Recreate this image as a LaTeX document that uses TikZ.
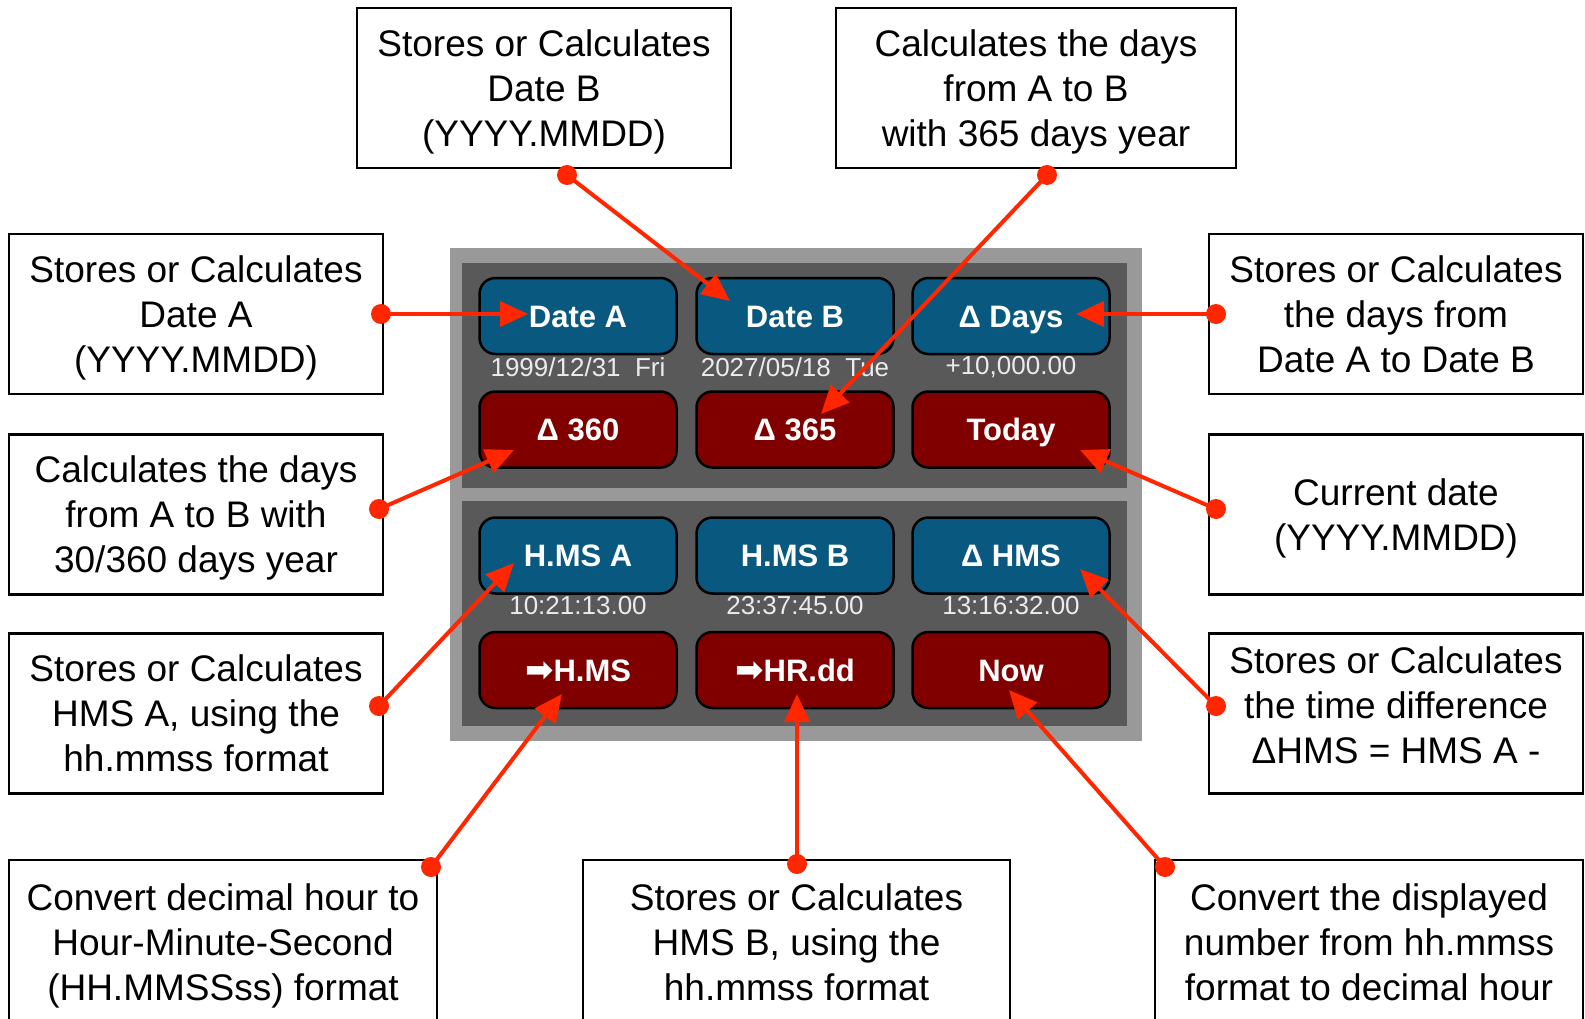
\documentclass[tikz,border=0pt]{standalone}
\usepackage{fontspec}
\setmainfont{Liberation Sans}
\newfontfamily\btnfont{Liberation Sans}
\newfontfamily\arrowfont{DejaVu Sans}
\usetikzlibrary{arrows.meta}
\definecolor{callred}{RGB}{255,38,0}
\definecolor{btnblue}{RGB}{8,88,128}
\definecolor{btnred}{RGB}{128,0,0}
\definecolor{panelouter}{RGB}{153,153,153}
\definecolor{panelinner}{RGB}{89,89,89}
\definecolor{sublabel}{RGB}{235,235,235}
\begin{document}
\begin{tikzpicture}[x=1pt,y=-1pt,
  box/.style={draw=black, line width=2.5pt, fill=white, inner sep=0pt,
    minimum width=374pt, minimum height=160pt, align=center, text depth=0pt,
    font=\fontsize{37}{45}\selectfont},
  btn/.style={draw=black, line width=2.5pt, rounded corners=16pt,
    minimum width=197pt, minimum height=76pt, inner sep=0pt, text=white,
    text height=22pt, text depth=0pt,
    font=\btnfont\bfseries\fontsize{31}{36}\selectfont},
  bluebtn/.style={btn, fill=btnblue},
  redbtn/.style={btn, fill=btnred},
  sub/.style={text=sublabel, inner sep=0pt, font=\btnfont\fontsize{26}{30}\selectfont},
  conn/.style={draw=callred, line width=4pt, -{Triangle[length=28pt,width=25pt]}},
  dotmark/.style={fill=callred},
]
\useasboundingbox (0,0) rectangle (1585,1019);
\fill[white] (0,0) rectangle (1585,1019);

% panel
\fill[panelouter] (450,248) rectangle (1142,741);
\fill[panelinner] (462,263) rectangle (1127,488);
\fill[panelinner] (462,501) rectangle (1127,726);

% buttons
\node[bluebtn] (bDateA) at (578,316) {Date A};
\node[bluebtn] (bDateB) at (795,316) {Date B};
\node[bluebtn] (bDays)  at (1011,316) {Δ Days};
\node[sub] (sDateA) at (578,367) {1999/12/31\ \ Fri};
\node[sub] (sDateB) at (795,367) {2027/05/18\ \ Tue};
\node[sub] (sDays)  at (1011,367) {+10,000.00};
\node[redbtn] (b360)   at (578,429.5) {Δ 360};
\node[redbtn] (b365)   at (795,429.5) {Δ 365};
\node[redbtn] (bToday) at (1011,429.5) {Today};
\node[bluebtn] (bHA)  at (578,555.5) {H.MS A};
\node[bluebtn] (bHB)  at (795,555.5) {H.MS B};
\node[bluebtn] (bHMS) at (1011,555.5) {Δ HMS};
\node[sub] (sHA)  at (578,606) {10:21:13.00};
\node[sub] (sHB)  at (795,606) {23:37:45.00};
\node[sub] (sHMS) at (1011,606) {13:16:32.00};
\node[redbtn] (bToHMS) at (578,670) {{\arrowfont\fontsize{34}{36}\selectfont ➡}H.MS};
\node[redbtn] (bToHR)  at (795,670) {{\arrowfont\fontsize{34}{36}\selectfont ➡}HR.dd};
\node[redbtn] (bNow)   at (1011,670) {Now};

% callout boxes
\node[box] (tB) at (544,88) {Stores or Calculates\\Date B\\(YYYY.MMDD)};
\node[box, minimum width=400pt] (tD) at (1036,88) {Calculates the days\\from A to B\\with 365 days year};
\node[box] (lA) at (196,314) {Stores or Calculates\\Date A\\(YYYY.MMDD)};
\node[box] (l360) at (196,514.5) {Calculates the days\\from A to B with\\30/360 days year};
\node[box] (lHA) at (196,713.5) {Stores or Calculates\\HMS A, using the\\hh.mmss format};
\node[box] (rDays) at (1396,314) {Stores or Calculates\\the days from\\Date A to Date B};
\node[box] (rToday) at (1396,514.5) {Current date\\(YYYY.MMDD)};
\node[box] (rHMS) at (1396,713.5) {};
\node[align=center, inner sep=0pt, text depth=0pt, font=\fontsize{37}{45}\selectfont] (rHMSt) at ([yshift=8pt]rHMS.center) {Stores or Calculates\\the time difference\\ΔHMS = HMS A -};
\node[box, minimum width=428pt, minimum height=164pt] (dToHMS) at (223,942) {Convert decimal hour to\\Hour-Minute-Second\\(HH.MMSSss) format};
\node[box, minimum width=427pt, minimum height=164pt] (dHB) at (796.5,942) {Stores or Calculates\\HMS B, using the\\hh.mmss format};
\node[box, minimum width=428pt, minimum height=164pt] (dNow) at (1369,942) {Convert the displayed\\number from hh.mmss\\format to decimal hour};

% dots and tips
\coordinate (pA) at (381,314);    \coordinate (qA) at (528,314);
\coordinate (pB) at (567,175);    \coordinate (qB) at (730,301);
\coordinate (p365) at (1047,175); \coordinate (q365) at (821,414);
\coordinate (pDays) at (1216,314);\coordinate (qDays) at (1076,314);
\coordinate (p360) at (379,509);  \coordinate (q360) at (514,450);
\coordinate (pToday) at (1216,509);\coordinate (qToday) at (1080,450);
\coordinate (pHA) at (379,706);   \coordinate (qHA) at (514,563);
\coordinate (pHMS) at (1216,706); \coordinate (qHMS) at (1080,569);
\coordinate (pToHMS) at (431,867);\coordinate (qToHMS) at (562,694);
\coordinate (pHR) at (797,864);   \coordinate (qHR) at (797,694);
\coordinate (pNow) at (1165,867); \coordinate (qNow) at (1009,690);

\foreach \n in {A,B,365,Days,360,Today,HA,HMS,ToHMS,HR,Now}{
  \draw[conn] (p\n) -- (q\n);
  \fill[dotmark] (p\n) circle (10pt);
}
\end{tikzpicture}
\end{document}
